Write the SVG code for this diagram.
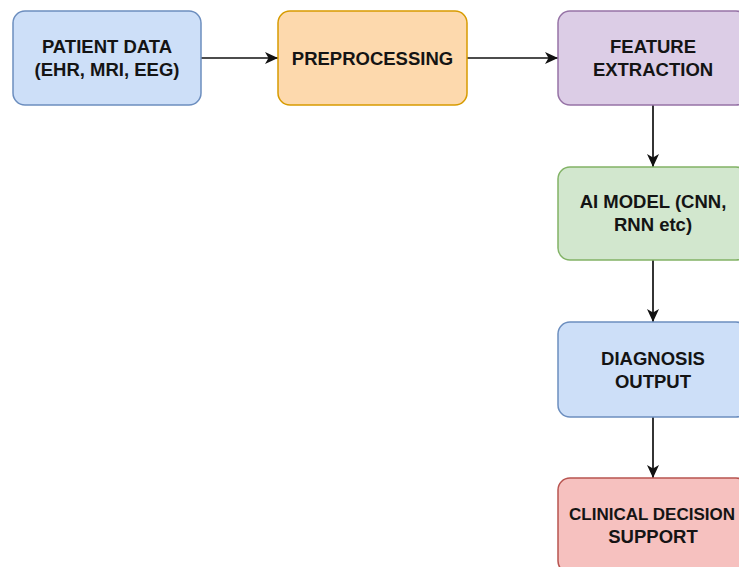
<svg xmlns="http://www.w3.org/2000/svg" width="739" height="567" viewBox="0 0 739 567">
  <style>
    .box { stroke-width: 1.5; }
    .blue { fill: #cddff8; stroke: #6c8ebf; }
    .orange { fill: #fdd9ad; stroke: #d79b00; }
    .purple { fill: #dccde6; stroke: #9673a6; }
    .green { fill: #d2e7ce; stroke: #82b366; }
    .red { fill: #f6c1bf; stroke: #b85450; }
    .label { font-family: "Liberation Sans", Arial, Helvetica, sans-serif; font-weight: bold; font-size: 18.5px; fill: #141414; text-anchor: middle; }
    .tight { font-size: 17px; }
    .edge { stroke: #111111; stroke-width: 1.7; fill: none; }
  </style>
  <defs>
    <marker id="arrow" markerUnits="userSpaceOnUse" markerWidth="14" markerHeight="14" refX="13" refY="7" orient="auto">
      <path d="M0,1 L13,7 L0,13 L3.5,7 Z" fill="#111111"/>
    </marker>
  </defs>
  <rect width="739" height="567" fill="#ffffff"/>

  <g id="connectors">
    <line class="edge" x1="201" y1="58" x2="278" y2="58" marker-end="url(#arrow)"/>
    <line class="edge" x1="467" y1="58" x2="558" y2="58" marker-end="url(#arrow)"/>
    <line class="edge" x1="653" y1="105" x2="653" y2="167" marker-end="url(#arrow)"/>
    <line class="edge" x1="653" y1="260" x2="653" y2="322" marker-end="url(#arrow)"/>
    <line class="edge" x1="653" y1="417" x2="653" y2="478" marker-end="url(#arrow)"/>
  </g>

  <g id="patient-data">
    <rect class="box blue" x="13" y="11" width="188" height="94" rx="12"/>
    <text class="label" x="107" y="53">PATIENT DATA</text>
    <text class="label" x="107" y="76">(EHR, MRI, EEG)</text>
  </g>

  <g id="preprocessing">
    <rect class="box orange" x="278" y="11" width="189" height="94" rx="12"/>
    <text class="label" x="372.5" y="64.5">PREPROCESSING</text>
  </g>

  <g id="feature-extraction">
    <rect class="box purple" x="558" y="11" width="190" height="94" rx="12"/>
    <text class="label" x="653" y="53">FEATURE</text>
    <text class="label" x="653" y="76">EXTRACTION</text>
  </g>

  <g id="ai-model">
    <rect class="box green" x="558" y="167" width="190" height="93" rx="12"/>
    <text class="label" x="653" y="208">AI MODEL (CNN,</text>
    <text class="label" x="653" y="231">RNN etc)</text>
  </g>

  <g id="diagnosis-output">
    <rect class="box blue" x="558" y="322" width="190" height="95" rx="12"/>
    <text class="label" x="653" y="364.5">DIAGNOSIS</text>
    <text class="label" x="653" y="387.5">OUTPUT</text>
  </g>

  <g id="clinical-decision-support">
    <rect class="box red" x="558" y="478" width="190" height="95" rx="12"/>
    <text class="label tight" x="652" y="520">CLINICAL DECISION</text>
    <text class="label" x="653" y="543">SUPPORT</text>
  </g>
</svg>
